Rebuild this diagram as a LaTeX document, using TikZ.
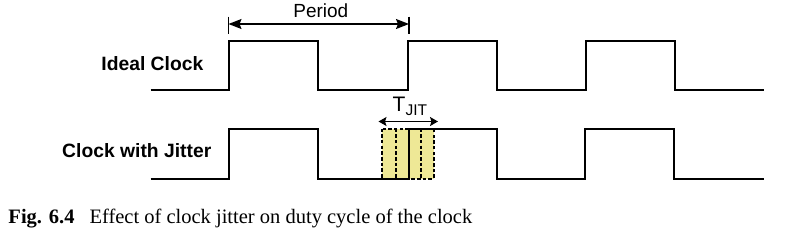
\documentclass[tikz,border=0pt]{standalone}
\usepackage{fontspec}
\setmainfont{Liberation Serif}
\setsansfont{Liberation Sans}
\usepackage{xcolor}
\usepackage{tikz}
\usetikzlibrary{arrows.meta}
\definecolor{jitfill}{RGB}{238,232,150}

\begin{document}
\begin{tikzpicture}[x=1pt, y=-1pt,
  sig/.style={line width=2pt, line join=miter},
  jbox/.style={line width=2pt, dash pattern=on 3.5pt off 2.2pt},
  tick/.style={line width=1.6pt},
  arr/.style={{Stealth[length=13pt,width=10pt,inset=2pt]}-{Stealth[length=13pt,width=10pt,inset=2pt]}, line width=1.4pt},
  sarr/.style={{Stealth[length=8pt,width=9pt,inset=1.5pt]}-{Stealth[length=8pt,width=9pt,inset=1.5pt]}, line width=1.4pt},
  lbl/.style={font=\sffamily\bfseries\fontsize{19.3}{22}\selectfont, anchor=base east, inner sep=0pt},
  txt/.style={font=\sffamily\fontsize{19}{22}\selectfont, inner sep=0pt}]
\useasboundingbox (0,0) rectangle (793,244);
% jitter window
\fill[jitfill] (381.5,128.5) rectangle (433.5,178.5);
% clocks
\draw[sig] (150.5,90) \foreach \x in {229,407.5,586} {-- (\x,90) -- (\x,40.5) -- (\x+89,40.5) -- (\x+89,90)} -- (764,90);
\draw[sig] (150.5,178.5) \foreach \x in {229,408.5,585} {-- (\x,178.5) -- (\x,128.5) -- (\x+88.5,128.5) -- (\x+88.5,178.5)} -- (764,178.5);
\draw[jbox] (381.5,128.5) rectangle (433.5,178.5);
\foreach \x in {395.5,421} \draw[jbox] (\x,128.5) -- (\x,178.5);
\node[lbl] (ideal) at (203.5,70) {Ideal Clock};
\node[lbl] (jitter) at (211.5,157.3) {Clock with Jitter};
% period
\coordinate (pl) at (228.5,24);
\coordinate (pr) at (409,24);
\draw[tick] (pl) ++(0,-7.5) -- ++(0,17);
\draw[tick] (pr) ++(0,-7.5) -- ++(0,17);
\draw[arr] (pl) -- (pr);
\node[txt, anchor=base] (period) at (320.8,17) {Period};
% T_JIT
\coordinate (jl) at (378.5,121.5);
\coordinate (jr) at (438,121.5);
\draw[sarr] (jl) -- (jr);
\node[txt, anchor=base west, font=\sffamily\fontsize{21}{24}\selectfont] (tjit) at (392.5,111) {T\raisebox{-4.5pt}{\fontsize{15.5}{16}\selectfont JIT}};
% caption
\node[anchor=base west, inner sep=0pt, font=\fontsize{20.5}{24}\selectfont] (caption) at (8.3,223.3) {\textbf{Fig. 6.4}\hspace{15pt}Effect of clock jitter on duty cycle of the clock};
\end{tikzpicture}
\end{document}
